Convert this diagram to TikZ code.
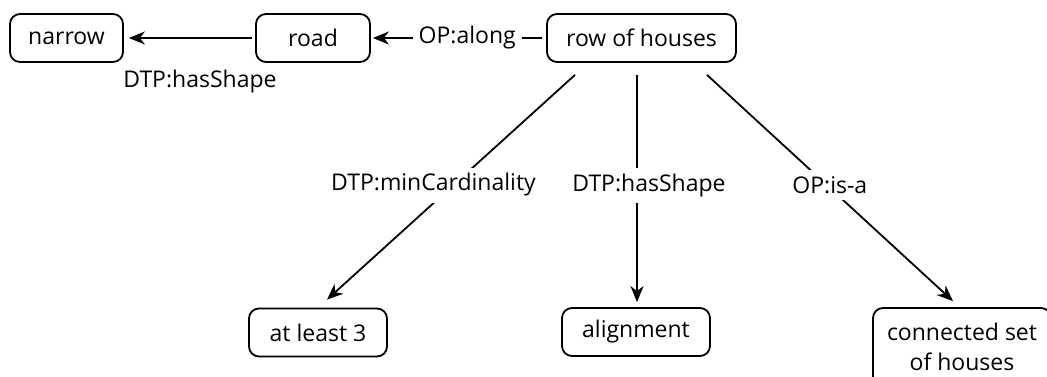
\documentclass[tikz,border=0pt]{standalone}
\usepackage{fontspec}
\setmainfont{Open Sans}
\usetikzlibrary{arrows.meta,calc}
\newcommand{\fs}{\fontsize{23}{30}\selectfont}
\begin{document}
\begin{tikzpicture}[x=1pt,y=-1pt,
  box/.style={draw, line width=1.8pt, rounded corners=10pt, font=\fs, inner sep=0pt, minimum height=48pt},
  lbl/.style={fill=white, font=\fs, inner xsep=6pt, inner ysep=6pt},
  plainlbl/.style={font=\fs, inner sep=0pt},
  link/.style={line width=1.8pt, -{Stealth[length=16pt,width=13pt,inset=5pt]}},
]
\useasboundingbox (0,0) rectangle (1047,376);
\clip (0,0) rectangle (1047,376);

\node[box, minimum width=113pt] (narrow) at (66.5,38) {narrow};
\node[box, minimum width=114pt] (road) at (313,38) {road};
\node[box, minimum width=189pt] (row) at (641.5,38) {row of houses};
\node[box, minimum width=138pt] (least) at (318,332.5) {at least 3};
\node[box, minimum width=148pt] (align) at (636,332) {alignment};
\node[box, minimum width=178pt, minimum height=78pt, align=center] (conn) at (962,347) {connected set\\of houses};

\draw[link, shorten >=5pt, shorten <=3pt] (road) -- node[plainlbl, pos=0.42, yshift=-44pt] {DTP:hasShape} (narrow);
\draw[link, shorten >=2pt, shorten <=4pt] (row) -- node[lbl, pos=0.45] {OP:along} (road);

\draw[link] ($(row.south)+(-66.5,12)$) -- node[lbl, pos=0.49, xshift=-20pt] {DTP:minCardinality} ($(least.north)+(9,-8)$);
\draw[link] ($(row.south)+(-4.5,12)$) -- node[lbl, pos=0.485, xshift=12pt] {DTP:hasShape} ($(align.north)+(1,-5)$);
\draw[link] ($(row.south)+(65.5,12)$) -- node[lbl, pos=0.487, xshift=3pt] {OP:is-a} ($(conn.north)+(-9,-6)$);
\end{tikzpicture}
\end{document}
